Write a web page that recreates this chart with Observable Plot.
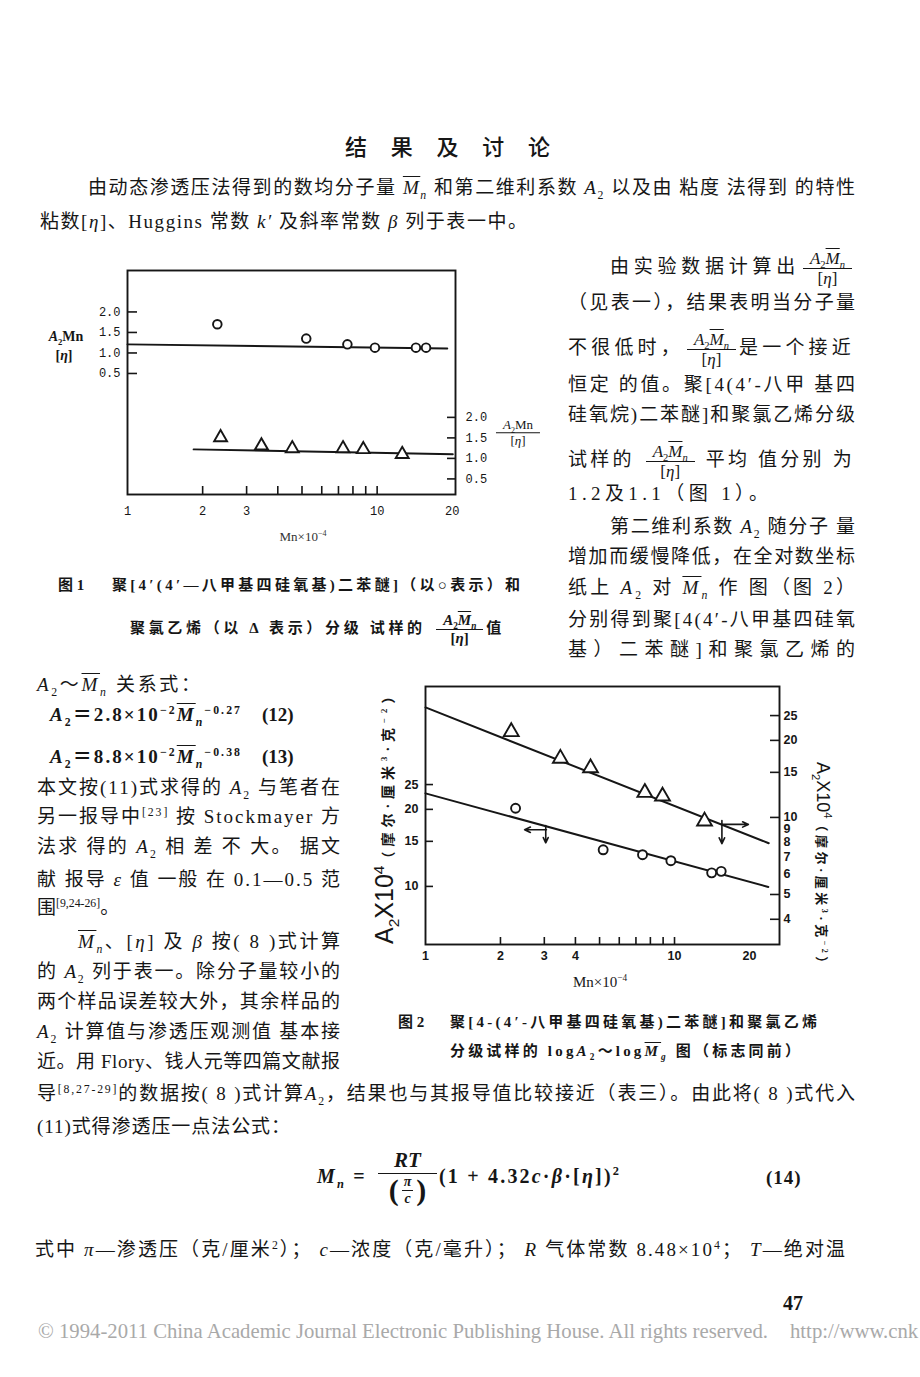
<!DOCTYPE html>
<html><head><meta charset="utf-8">
<script src="https://cdn.jsdelivr.net/npm/d3@7"></script>
<script src="https://cdn.jsdelivr.net/npm/@observablehq/plot@0.6"></script>
<style>
html,body{margin:0;padding:0;background:#fff;}
#page{position:relative;width:920px;height:1377px;overflow:hidden;background:#fff;color:#161616;font-family:"Liberation Serif","Noto Sans CJK SC",serif;}
.ln{position:absolute;white-space:nowrap;font-size:19px;line-height:24px;height:24px;}
.title{font-size:22px;font-weight:500;}
.cap{font-size:15px;font-weight:700;}
.eq{font-weight:700;}
.frac{display:inline-flex;flex-direction:column;align-items:center;vertical-align:middle;line-height:1.02;letter-spacing:0;margin:0 3px;}
.frac .num{border-bottom:1.4px solid #161616;padding:0 7px 1px;}
.frac .den{padding-top:1px;}
.ov{text-decoration:overline;text-decoration-thickness:1px;}
sub,sup{font-size:0.62em;line-height:0;}
.abs{position:absolute;white-space:nowrap;}
.c{transform:translate(-50%,-50%);}
.fig{position:absolute;}
</style></head>
<body><div id="page"></div>
<script>
const INK = "#161616";

// ---------- Figure 1 data (A2·Mn/[η] vs Mn×10^-4) ----------
const fig1XTickMarks = [2, 3, 4, 5, 6, 7, 8, 9, 10];
const fig1XTickLabels = [1, 2, 3, 4, 5, 6, 7, 8, 9, 10, 20];
const fig1LeftTicks = [0.5, 1.0, 1.5, 2.0];
const fig1RightTicks = [0.5, 1.0, 1.5, 2.0];
const fig1RightOffset = 2.57;            // right axis shifted below left axis
const fig1CircleMn = [2.29, 5.2, 7.6, 9.8, 14.3, 15.7];
const fig1CircleRatio = [1.70, 1.35, 1.21, 1.13, 1.13, 1.13];
const fig1TriangleMn = [2.36, 3.44, 4.57, 7.3, 8.8, 12.6];
const fig1TriangleRatio = [1.51, 1.31, 1.24, 1.24, 1.22, 1.10];
const fig1CircleMeanMn = [1, 19.1];
const fig1CircleMeanRatio = [1.21, 1.11];
const fig1TriangleMeanMn = [1.84, 20.1];
const fig1TriangleMeanRatio = [1.22, 1.10];

// ---------- Figure 2 data (A2×10^4 vs Mn×10^-4, log–log) ----------
const fig2XTickMarks = [2, 3, 4, 5, 6, 7, 8, 9, 10];
const fig2XTickLabels = [1, 2, 3, 4, 5, 6, 7, 8, 9, 10, 20];
const fig2LeftTicks = [10, 15, 20, 25];
const fig2RightTickMarks = [4, 5, 10, 15, 20, 25];
const fig2RightTickLabels = [4, 5, 6, 7, 8, 9, 10, 15, 20, 25];
const fig2RightFactor = 1.86;            // right axis value × factor = left axis position
const fig2CircleMn = [2.30, 5.17, 7.44, 9.67, 14.1, 15.4];
const fig2CircleA2 = [20.2, 13.9, 13.3, 12.6, 11.3, 11.45];
const fig2TriangleMn = [2.21, 3.48, 4.60, 7.60, 8.95, 13.2];
const fig2TriangleA2 = [21.6, 17.0, 15.6, 12.5, 12.1, 9.67];
const fig2CircleFitMn = [1, 23.8];
const fig2CircleFitA2 = [23.1, 9.95];
const fig2TriangleFitMn = [1, 23.9];
const fig2TriangleFitA2 = [26.9, 7.93];
// arrows pointing to the axis each series uses: [x1, y1, x2, y2]
const fig2CircleArrows = [[3.06, 16.65, 2.5, 16.65], [3.04, 17.3, 3.04, 14.8]];
const fig2TriangleArrows = [[15.5, 9.39, 19.8, 9.39], [15.5, 9.73, 15.5, 7.9]];

const page = document.getElementById("page");
const zip = (xs, ys) => xs.map((x, i) => ({x, y: ys[i]}));

// ---------- Figure 1 ----------
const F1W = 560, F1H = 300, F1ML = 127, F1MR = 105, F1MT = 15, F1MB = 61;
const f1pw = F1W - F1ML - F1MR, f1ph = F1H - F1MT - F1MB;
const fig1 = Plot.plot({
  width: F1W, height: F1H,
  marginLeft: F1ML, marginRight: F1MR, marginTop: F1MT, marginBottom: F1MB,
  style: {background: "transparent", color: INK, fontFamily: '"Liberation Mono", monospace', fontSize: "12px", overflow: "visible"},
  x: {type: "log", domain: [1, 20.6], axis: null},
  y: {domain: [-2.45, 3.01], axis: null},
  marks: [
    Plot.frame({stroke: INK, strokeWidth: 1.9}),
    Plot.tickX(fig1XTickMarks, {x: d => d, stroke: INK, strokeWidth: 1.6, insetTop: f1ph - 8}),
    Plot.tickY(fig1LeftTicks, {y: d => d, stroke: INK, strokeWidth: 1.6, insetRight: f1pw - 10}),
    Plot.tickY(fig1RightTicks, {y: d => d - fig1RightOffset, stroke: INK, strokeWidth: 1.6, insetLeft: f1pw - 8}),
    Plot.axisX(fig1XTickLabels, {anchor: "bottom", tickSize: 0, tickPadding: 12, tickFormat: d => String(d), label: null}),
    Plot.axisY(fig1LeftTicks, {anchor: "left", tickSize: 0, tickPadding: 7, tickFormat: d => d.toFixed(1), label: null}),
    Plot.text(fig1RightTicks, {y: d => d - fig1RightOffset, text: d => d.toFixed(1), frameAnchor: "right", dx: 10, textAnchor: "start"}),
    Plot.line(zip(fig1CircleMeanMn, fig1CircleMeanRatio), {x: "x", y: "y", stroke: INK, strokeWidth: 1.9}),
    Plot.line(zip(fig1TriangleMeanMn, fig1TriangleMeanRatio.map(v => v - fig1RightOffset)), {x: "x", y: "y", stroke: INK, strokeWidth: 1.9}),
    Plot.dot(zip(fig1CircleMn, fig1CircleRatio), {x: "x", y: "y", r: 4.3, stroke: INK, strokeWidth: 1.9, fill: "white"}),
    Plot.dot(zip(fig1TriangleMn, fig1TriangleRatio.map(v => v - fig1RightOffset)), {x: "x", y: "y", symbol: "triangle", r: 4.8, stroke: INK, strokeWidth: 1.9, fill: "white"})
  ]
});
const f1 = document.createElement("div");
f1.className = "fig"; f1.style.left = "0px"; f1.style.top = "255px";
f1.appendChild(fig1); page.appendChild(f1);

// ---------- Figure 2 ----------
const F = fig2RightFactor;
const F2W = 470, F2H = 330, F2ML = 65, F2MR = 51, F2MT = 16, F2MB = 56;
const f2pw = F2W - F2ML - F2MR, f2ph = F2H - F2MT - F2MB;
const fig2 = Plot.plot({
  width: F2W, height: F2H,
  marginLeft: F2ML, marginRight: F2MR, marginTop: F2MT, marginBottom: F2MB,
  style: {background: "transparent", color: INK, fontFamily: '"Liberation Sans", sans-serif', fontSize: "12.5px", fontWeight: "bold", overflow: "visible"},
  x: {type: "log", domain: [1, 26.4], axis: null},
  y: {type: "log", domain: [5.93, 60.4], axis: null},
  marks: [
    Plot.frame({stroke: INK, strokeWidth: 1.9}),
    Plot.tickX(fig2XTickMarks, {x: d => d, stroke: INK, strokeWidth: 1.6, insetTop: f2ph - 7}),
    Plot.tickY(fig2LeftTicks, {y: d => d, stroke: INK, strokeWidth: 1.6, insetRight: f2pw - 8}),
    Plot.tickY(fig2RightTickMarks, {y: d => d * F, stroke: INK, strokeWidth: 1.6, insetLeft: f2pw - 9}),
    Plot.axisX(fig2XTickLabels, {anchor: "bottom", tickSize: 0, tickPadding: 7, tickFormat: d => String(d), label: null}),
    Plot.axisY(fig2LeftTicks, {anchor: "left", tickSize: 0, tickPadding: 7, tickFormat: d => String(d), label: null}),
    Plot.text(fig2RightTickLabels, {y: d => d * F, text: d => String(d), frameAnchor: "right", dx: 4, textAnchor: "start"}),
    Plot.line(zip(fig2CircleFitMn, fig2CircleFitA2), {x: "x", y: "y", stroke: INK, strokeWidth: 2}),
    Plot.line(zip(fig2TriangleFitMn, fig2TriangleFitA2.map(v => v * F)), {x: "x", y: "y", stroke: INK, strokeWidth: 2}),
    Plot.arrow(fig2CircleArrows, {x1: d => d[0], y1: d => d[1], x2: d => d[2], y2: d => d[3], stroke: INK, strokeWidth: 1.6, headLength: 6, headAngle: 50}),
    Plot.arrow(fig2TriangleArrows, {x1: d => d[0], y1: d => d[1] * F, x2: d => d[2], y2: d => d[3] * F, stroke: INK, strokeWidth: 1.6, headLength: 6, headAngle: 50}),
    Plot.dot(zip(fig2CircleMn, fig2CircleA2), {x: "x", y: "y", r: 4.5, stroke: INK, strokeWidth: 1.9, fill: "white"}),
    Plot.dot(zip(fig2TriangleMn, fig2TriangleA2.map(v => v * F)), {x: "x", y: "y", symbol: "triangle", r: 5.5, stroke: INK, strokeWidth: 1.9, fill: "white"})
  ]
});
const f2 = document.createElement("div");
f2.className = "fig"; f2.style.left = "360px"; f2.style.top = "670px";
f2.appendChild(fig2); page.appendChild(f2);

// ---------- Text ----------
const A2 = '<i>A</i><sub>2</sub>';
const MN = '<i class="ov">M</i><sub><i>n</i></sub>';
const ETA = '[<i>η</i>]';
const frac = (num, den, size) => `<span class="frac"${size ? ` style="font-size:${size}px"` : ""}><span class="num">${num}</span><span class="den">${den}</span></span>`;
const FR = frac(A2 + MN, ETA, 17);

// [left, centerY, fitWidth|null, html, class]
const textLines = [
  [345, 148, 205, "结果及讨论", "title"],
  [88, 188, 767, `由动态渗透压法得到的数均分子量 ${MN} 和第二维利系数 ${A2} 以及由 粘度 法得到 的特性`],
  [40, 222, 487, `粘数${ETA}、Huggins 常数 <i>k′</i> 及斜率常数 <i>β</i> 列于表一中。`],
  [610, 262, 245, `由实验数据计算出${FR}`],
  [568, 303, 287, "（见表一），结果表明当分子量"],
  [568, 343, 287, `不很低时，${FR}是一个接近`],
  [568, 385, 287, "恒定 的值。聚[4(4′-八甲 基四"],
  [568, 415, 287, "硅氧烷)二苯醚]和聚氯乙烯分级"],
  [568, 455, 287, `试样的 ${FR} 平均 值分别 为`],
  [568, 494, 200, "1.2及1.1（图 1）。"],
  [610, 527, 245, `第二维利系数 ${A2} 随分子 量`],
  [568, 557, 287, "增加而缓慢降低，在全对数坐标"],
  [568, 588, 287, `纸上 ${A2} 对 ${MN} 作 图（图 2）`],
  [568, 620, 287, "分别得到聚[4(4′-八甲基四硅氧"],
  [568, 650, 287, "基）二苯醚]和聚氯乙烯的"],
  [58, 585, null, "图 1", "cap"],
  [112, 585, 408, "聚[4′(4′—八甲基四硅氧基)二苯醚]（以○表示）和", "cap"],
  [130, 625, 375, `聚氯乙烯（以 Δ 表示）分级 试样的 ${frac(A2 + MN, ETA, 15)}值`, "cap"],
  [37, 685, 163, `${A2}～${MN} 关系式：`],
  [50, 715, 190, `${A2}＝2.8×10<sup>−2</sup>${MN}<sup>−0.27</sup>`, "eq"],
  [262, 715, null, "(12)", "eq"],
  [50, 757, 190, `${A2}＝8.8×10<sup>−2</sup>${MN}<sup>−0.38</sup>`, "eq"],
  [262, 757, null, "(13)", "eq"],
  [37, 788, 303, `本文按(11)式求得的 ${A2} 与笔者在`],
  [37, 817, 303, "另一报导中<sup>[23]</sup> 按 Stockmayer 方"],
  [37, 847, 303, `法求 得的 ${A2} 相 差 不 大。 据文`],
  [37, 880, 303, "献 报导 <i>ε</i> 值 一般 在 0.1—0.5 范"],
  [37, 908, null, "围<sup>[9,24-26]</sup>。"],
  [78, 942, 262, `${MN}、${ETA} 及 <i>β</i> 按( 8 )式计算`],
  [37, 972, 303, `的 ${A2} 列于表一。除分子量较小的`],
  [37, 1002, 303, "两个样品误差较大外，其余样品的"],
  [37, 1032, 303, `${A2} 计算值与渗透压观测值 基本接`],
  [37, 1062, 303, "近。用 Flory、钱人元等四篇文献报"],
  [398, 1022, null, "图 2", "cap"],
  [450, 1022, 367, "聚[4-(4′-八甲基四硅氧基)二苯醚]和聚氯乙烯", "cap"],
  [450, 1051, 350, `分级试样的 log${A2}～log<i class="ov">M</i><sub><i>g</i></sub> 图（标志同前）`, "cap"],
  [37, 1094, 818, `导<sup>[8,27-29]</sup>的数据按( 8 )式计算${A2}，结果也与其报导值比较接近（表三）。由此将( 8 )式代入`],
  [37, 1127, 253, "(11)式得渗透压一点法公式："],
  [35, 1250, 810, "式中 <i>π</i>—渗透压（克/厘米<sup>2</sup>）； <i>c</i>—浓度（克/毫升）； <i>R</i> 气体常数 8.48×10<sup>4</sup>； <i>T</i>—绝对温"]
];

const fitters = [];
for (const [x, cy, w, html, cls] of textLines) {
  const el = document.createElement("div");
  el.className = "ln" + (cls ? " " + cls : "");
  el.style.left = x + "px";
  el.style.top = (cy - 12) + "px";
  el.innerHTML = html;
  page.appendChild(el);
  if (w) fitters.push([el, w]);
}

function countChars(el) {
  let n = 0;
  const walker = document.createTreeWalker(el, NodeFilter.SHOW_TEXT);
  while (walker.nextNode()) {
    const t = walker.currentNode;
    if (!t.parentElement.closest(".frac")) n += [...t.textContent].length;
  }
  return n + el.querySelectorAll(".frac").length;
}
function fitAll() {
  for (const [el, W] of fitters) {
    el.style.letterSpacing = "0px";
    el.style.fontSize = "";
    const w = el.getBoundingClientRect().width;
    const n = countChars(el);
    if (w > W) {
      const fs = parseFloat(getComputedStyle(el).fontSize);
      el.style.fontSize = (fs * W / w) + "px";
    } else if (n > 1) {
      el.style.letterSpacing = ((W - w) / (n - 1)) + "px";
    }
  }
}

function addAbs(html, left, top, css, center) {
  const el = document.createElement("div");
  el.className = "abs" + (center ? " c" : "");
  el.style.left = left + "px"; el.style.top = top + "px";
  if (css) el.style.cssText += css;
  el.innerHTML = html;
  page.appendChild(el);
  return el;
}
// formula (14)
const bigParen = s => `<span style="font-size:30px;font-style:normal;vertical-align:middle">${s}</span>`;
const formula = `<i>M</i><sub><i>n</i></sub> = <span class="frac" style="font-size:21px;margin:0 2px 0 4px"><span class="num" style="padding:0 16px 2px"><i>RT</i></span><span class="den">${bigParen("(")}<span class="frac" style="font-size:14px;margin:0 3px"><span class="num" style="padding:0 2px"><i>π</i></span><span class="den"><i>c</i></span></span>${bigParen(")")}</span></span>(1 + 4.32<i>c</i>·<i>β</i>·[<i>η</i>])<sup>2</sup>`;
addAbs(formula, 317, 1178, "font-size:20px;letter-spacing:2.2px;transform:translateY(-50%);font-weight:600");
addAbs("(14)", 766, 1178, "font-size:19px;letter-spacing:1px;transform:translateY(-50%);font-weight:700");

// figure 1 axis labels
addAbs(`<b>${A2}</b><b>Mn</b>`, 66, 337, "font-size:14px", true);
addAbs(`<b>[<i>η</i>]</b>`, 64, 356, "font-size:14px", true);
addAbs(frac(`${A2}Mn`, ETA, 13), 518, 433, "", true);
addAbs(`Mn×10<sup>−4</sup>`, 303, 537, "font-size:13px;color:#333", true);

// figure 2 axis labels
addAbs(`<span style="font-family:'Liberation Sans',sans-serif;font-size:25px">A<sub>2</sub>X10<sup>4</sup></span><span style="font-size:14px;letter-spacing:5px;font-weight:700">（摩尔·厘米<sup>3</sup>·克<sup>−2</sup>）</span>`,
  370, 944, "line-height:28px;transform:rotate(-90deg);transform-origin:left top");
addAbs(`<span style="font-family:'Liberation Sans',sans-serif;font-size:18px">A<sub>2</sub>X10<sup>4</sup></span><span style="font-size:13px;letter-spacing:3.5px;font-weight:700">（摩尔·厘米<sup>3</sup>·克<sup>−2</sup>）</span>`,
  836, 762, "line-height:26px;transform:rotate(90deg);transform-origin:left top");
addAbs(`Mn×10<sup>−4</sup>`, 600, 982, "font-size:15px", true);

// page number and copyright
addAbs("47", 783, 1303, "font-size:20px;font-weight:700;transform:translateY(-50%)");
const cp = addAbs("© 1994-2011 China Academic Journal Electronic Publishing House. All rights reserved.", 38, 1331, "font-size:22px;color:#a9a9a9;transform-origin:left center");
const cp2 = addAbs("http://www.cnk", 790, 1331, "font-size:22px;color:#a9a9a9;transform-origin:left center");
function fitCopyright() {
  cp.style.transform = "translateY(-50%)";
  const w = cp.getBoundingClientRect().width;
  const s = 730 / w;
  cp.style.transform = `translateY(-50%) scaleX(${s})`;
  cp2.style.transform = `translateY(-50%) scaleX(${s})`;
}
fitAll(); fitCopyright();
if (document.fonts && document.fonts.ready) document.fonts.ready.then(() => { fitAll(); fitCopyright(); });
</script>
</body></html>
